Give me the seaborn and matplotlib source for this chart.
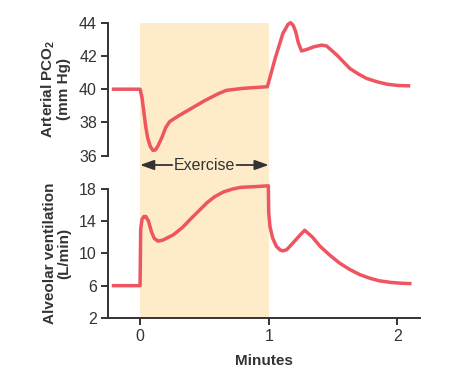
"""Arterial PCO2 and alveolar ventilation before, during and after exercise."""

import matplotlib.pyplot as plt
import matplotlib.transforms as mtransforms
import pandas as pd
import seaborn as sns
from matplotlib.patches import Rectangle

# Arterial PCO2 (mm Hg) against time (minutes)
pco2_minutes = [
    -0.22, 0.0, 0.015, 0.03, 0.045, 0.06, 0.08, 0.10, 0.12, 0.14, 0.17, 0.20,
    0.23, 0.30, 0.40, 0.50, 0.60, 0.67, 0.80, 0.99, 1.05, 1.11, 1.15, 1.17,
    1.19, 1.21, 1.23, 1.255, 1.30, 1.35, 1.41, 1.45, 1.53, 1.63, 1.70, 1.76,
    1.84, 1.92, 2.01, 2.10,
]
pco2_values = [
    40.0, 40.0, 39.5, 38.6, 37.7, 37.05, 36.55, 36.32, 36.35, 36.6, 37.1, 37.7,
    38.05, 38.4, 38.85, 39.3, 39.7, 39.93, 40.05, 40.15, 41.85, 43.35, 43.9, 44.0,
    43.85, 43.45, 42.8, 42.3, 42.4, 42.55, 42.65, 42.6, 42.05, 41.25, 40.9, 40.65,
    40.45, 40.3, 40.22, 40.2,
]

# Alveolar ventilation (L/min) against time (minutes)
vent_minutes = [
    -0.22, 0.0, 0.005, 0.015, 0.03, 0.045, 0.065, 0.09, 0.11, 0.14, 0.18, 0.26,
    0.33, 0.39, 0.46, 0.52, 0.58, 0.65, 0.72, 0.78, 0.90, 0.997, 1.0, 1.01,
    1.03, 1.06, 1.09, 1.11, 1.14, 1.19, 1.24, 1.28, 1.34, 1.40, 1.48, 1.55,
    1.63, 1.71, 1.79, 1.86, 1.95, 2.03, 2.11,
]
vent_values = [
    6.0, 6.0, 13.0, 14.2, 14.55, 14.55, 14.0, 12.6, 11.85, 11.5, 11.65, 12.3,
    13.2, 14.2, 15.3, 16.25, 17.0, 17.6, 17.95, 18.15, 18.25, 18.35, 15.0, 13.3,
    11.9, 10.85, 10.4, 10.3, 10.45, 11.3, 12.2, 12.85, 12.0, 10.85, 9.7, 8.8,
    8.0, 7.35, 6.9, 6.6, 6.4, 6.3, 6.25,
]

pco2_ticks = [36, 38, 40, 42, 44]
vent_ticks = [2, 6, 10, 14, 18]
minute_ticks = [0, 1, 2]
exercise_span = (0, 1)

LINE = "#EF5461"
SHADE = "#FDEBC9"
INK = "#333333"

sns.set_style("ticks")
plt.rcParams["font.family"] = ["Liberation Sans", "DejaVu Sans"]
plt.rcParams["mathtext.default"] = "regular"
plt.rcParams["text.color"] = INK
plt.rcParams["axes.labelcolor"] = INK
plt.rcParams["xtick.color"] = INK
plt.rcParams["ytick.color"] = INK

fig = plt.figure(figsize=(4.67, 3.74), dpi=100)
ax1 = fig.add_axes([0.2313, 0.5837, 0.6681, 0.3556])
ax2 = fig.add_axes([0.2313, 0.1497, 0.6681, 0.346])

pco2_df = pd.DataFrame({"minutes": pco2_minutes, "pco2": pco2_values})
vent_df = pd.DataFrame({"minutes": vent_minutes, "vent": vent_values})

line_kw = dict(color=LINE, lw=2.5, sort=False, estimator=None, clip_on=False,
               solid_joinstyle="round", solid_capstyle="butt")
sns.lineplot(data=pco2_df, x="minutes", y="pco2", ax=ax1, **line_kw)
sns.lineplot(data=vent_df, x="minutes", y="vent", ax=ax2, **line_kw)

xlim = (-0.249, 2.176)
for ax in (ax1, ax2):
    ax.set_facecolor("none")
    ax.set_xlim(*xlim)
    for side in ("top", "right"):
        ax.spines[side].set_visible(False)
    ax.spines["left"].set_linewidth(1.4)
    ax.spines["left"].set_color(INK)
    ax.tick_params(axis="both", labelsize=11.5, width=1.4, length=5, pad=3)

# top panel: only the left axis
ax1.set_ylim(pco2_ticks[0], pco2_ticks[-1])
ax1.set_yticks(pco2_ticks)
ax1.spines["bottom"].set_visible(False)
ax1.set_xticks([])
ax1.set_xlabel("")
ax1.set_ylabel("Arterial PCO$_2$\n(mm Hg)", fontsize=11, fontweight="bold",
               linespacing=1.0)
ax1.yaxis.set_label_coords(-0.118, 0.5)

# bottom panel
ax2.set_ylim(vent_ticks[0], vent_ticks[-1])
ax2.set_yticks(vent_ticks)
ax2.set_xticks(minute_ticks)
ax2.spines["bottom"].set_linewidth(1.4)
ax2.spines["bottom"].set_color(INK)
ax2.set_xlabel("Minutes", fontsize=11, fontweight="bold", labelpad=7)
ax2.set_ylabel("Alveolar ventilation\n(L/min)", fontsize=11, fontweight="bold",
               linespacing=1.0)
ax2.yaxis.set_label_coords(-0.118, 0.5)

# exercise band spans both panels
band_tf = mtransforms.blended_transform_factory(ax2.transData, fig.transFigure)
fig.patches.append(Rectangle((exercise_span[0], 0.1497), exercise_span[1] - exercise_span[0],
                             0.9393 - 0.1497, transform=band_tf, facecolor=SHADE,
                             edgecolor="none", zorder=-1))

label_tf = mtransforms.blended_transform_factory(ax1.transData, fig.transFigure)
y_lab = 1 - 165 / 374
mid = sum(exercise_span) / 2
ax1.text(mid, y_lab, "Exercise", transform=label_tf, ha="center", va="center",
         fontsize=11.5, color=INK)
arrow = dict(arrowstyle="-|>,head_length=0.7,head_width=0.25", color=INK, lw=1.3,
             mutation_scale=12, shrinkA=0, shrinkB=0)
ax1.annotate("", xy=(exercise_span[0], y_lab), xytext=(mid - 0.25, y_lab),
             xycoords=label_tf, textcoords=label_tf, arrowprops=arrow, annotation_clip=False)
ax1.annotate("", xy=(exercise_span[1], y_lab), xytext=(mid + 0.25, y_lab),
             xycoords=label_tf, textcoords=label_tf, arrowprops=arrow, annotation_clip=False)

fig.savefig("out.png", dpi=100)
